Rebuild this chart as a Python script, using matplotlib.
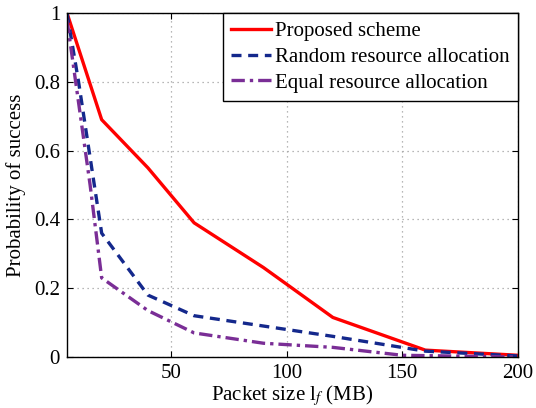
import numpy as np
import matplotlib.pyplot as plt

plt.rcParams['font.family'] = ['Liberation Serif', 'DejaVu Serif']
plt.rcParams['mathtext.fontset'] = 'stix'

# packet size (MB) and success probabilities
x_prop = [5, 20, 40, 60, 90, 120, 160, 200]
p_prop = [1.0, 0.69, 0.55, 0.39, 0.26, 0.115, 0.02, 0.005]

x_rand = [5, 10, 15, 20, 40, 60, 90, 120, 160, 200]
p_rand = [1.0, 0.8, 0.58, 0.36, 0.18, 0.12, 0.09, 0.06, 0.017, 0.003]

x_eq = [5, 15, 20, 40, 60, 90, 120, 150, 200]
p_eq = [0.98, 0.5, 0.23, 0.135, 0.07, 0.04, 0.028, 0.005, 0.0]

fig = plt.figure(figsize=(5.36, 4.08), dpi=100)
ax = fig.add_axes([0.125, 0.125, 0.841, 0.843])

ax.plot(x_prop, p_prop, '-', color='#ff0000', lw=2.4, label='Proposed scheme')
ax.plot(x_rand, p_rand, '--', color='#14288c', lw=2.4, dashes=(3, 2), label='Random resource allocation')
ax.plot(x_eq, p_eq, '-.', color='#7a2e96', lw=2.4, dashes=(4, 1.5, 1, 1.5), label='Equal resource allocation')

ax.set_xlim(5, 200)
ax.set_ylim(0, 1)
ax.set_xticks([50, 100, 150, 200])
ax.set_yticks([0, 0.2, 0.4, 0.6, 0.8, 1])
ax.set_yticklabels(['0', '0.2', '0.4', '0.6', '0.8', '1'])
ax.tick_params(direction='in', top=True, right=True, labelsize=15, length=4, pad=5)
ax.grid(True, linestyle=(0, (1, 3)), color='#a0a0a0', lw=0.9)
for s in ax.spines.values():
    s.set_linewidth(1.0)

ax.set_xlabel('Packet size l$_{f}$ (MB)', fontsize=15, labelpad=0)
ax.set_ylabel('Probability of success', fontsize=15, labelpad=6)

leg = ax.legend(loc='upper right', fontsize=15, fancybox=False, edgecolor='black',
                framealpha=1, borderaxespad=0, handlelength=1.9, handletextpad=0.2,
                labelspacing=0.3, borderpad=0.4)
leg.get_frame().set_linewidth(1.0)

plt.savefig('out.png', dpi=100)
